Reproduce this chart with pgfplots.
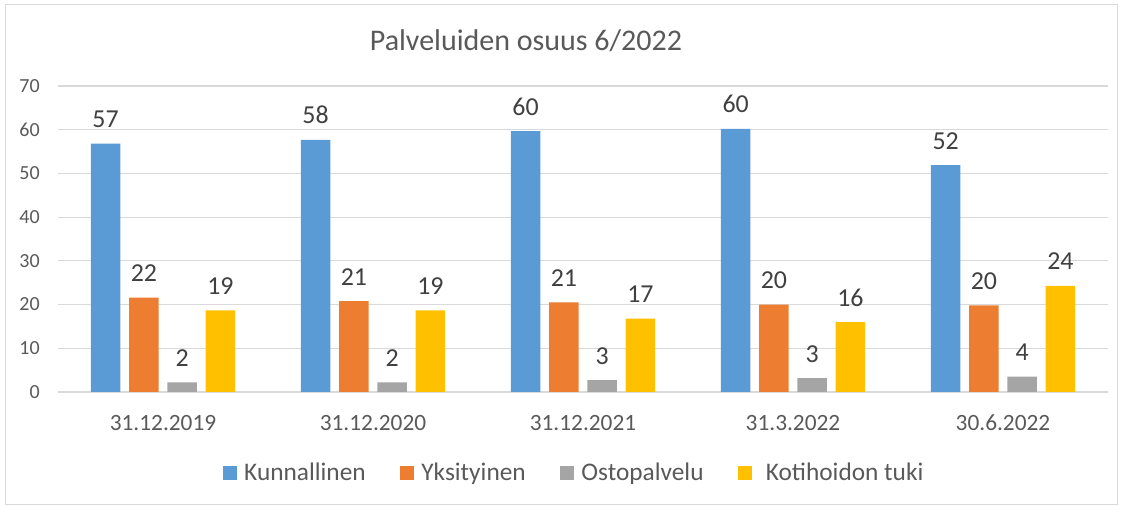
\documentclass[border=0pt]{standalone}
\usepackage{pgfplots}
\pgfplotsset{compat=1.18}
\usepackage{pgfplotstable}
\usepackage{fontspec}
\setmainfont{Carlito}
\definecolor{cblue}{HTML}{5B9BD5}
\definecolor{corange}{HTML}{ED7D31}
\definecolor{cgray}{HTML}{A5A5A5}
\definecolor{cyellow}{HTML}{FFC000}
\definecolor{gridc}{HTML}{D9D9D9}
\definecolor{txt}{HTML}{595959}
\definecolor{lbl}{HTML}{404040}
\pgfplotstableread{
x y lab
0 56.8 57
1 57.7 58
2 59.7 60
3 60.2 60
4 51.9 52
}\kunnallinen
\pgfplotstableread{
x y lab
0 21.6 22
1 20.8 21
2 20.5 21
3 20.0 20
4 19.8 20
}\yksityinen
\pgfplotstableread{
x y lab
0 2.2 2
1 2.2 2
2 2.7 3
3 3.2 3
4 3.5 4
}\ostopalvelu
\pgfplotstableread{
x y lab
0 18.7 19
1 18.7 19
2 16.8 17
3 16.0 16
4 24.3 24
}\kotihoidon
\begin{document}
\begin{tikzpicture}
\path[use as bounding box] (-43.5pt,-85.5pt) rectangle (798.75pt,294pt);
\draw[gridc, line width=1.1pt] (-39.4pt,-84.2pt) rectangle (794.6pt,290.6pt);
\begin{axis}[
  scale only axis,
  width=787.5pt, height=229.5pt,
  xmin=-0.5, xmax=4.5, ymin=0, ymax=70,
  xtick={0,1,2,3,4},
  xticklabels={31.12.2019,31.12.2020,31.12.2021,31.3.2022,30.6.2022},
  ytick={0,10,...,70},
  ymajorgrids,
  grid style={gridc, line width=0.9pt},
  axis line style={draw=none},
  major tick length=0pt,
  clip=false,
  /pgf/number format/assume math mode=true,
  yticklabel style={font=\fontsize{15}{18}\selectfont, text=txt, inner sep=0pt, xshift=-13.5pt},
  xticklabel style={font=\fontsize{17.5}{21}\selectfont, text=txt, anchor=base, inner sep=0pt, yshift=-29.25pt},
  ybar, bar width=22.1pt,
  nodes near coords,
  point meta=explicit symbolic,
  every node near coord/.append style={anchor=base, yshift=12pt, inner sep=0pt, font=\fontsize{19.4}{23}\selectfont, text=lbl},
  legend columns=4,
  legend image code/.code={\fill[#1] (0pt,-5.25pt) rectangle (10.5pt,5.25pt);},
  legend style={draw=none, fill=none, at={(0.1533,-0.2647)}, anchor=west,
    font=\fontsize{19}{23}\selectfont, text=txt, nodes={inner sep=0pt},
    /tikz/every odd column/.append style={column sep=5.25pt},
    /tikz/every even column/.append style={column sep=26pt}},
]
\addplot[fill=cblue, draw=none, bar shift=-43.05pt] table[x=x, y=y, meta=lab] {\kunnallinen};
\addlegendentry{Kunnallinen}
\addplot[fill=corange, draw=none, bar shift=-14.35pt] table[x=x, y=y, meta=lab] {\yksityinen};
\addlegendentry{Yksityinen}
\addplot[fill=cgray, draw=none, bar shift=14.35pt] table[x=x, y=y, meta=lab] {\ostopalvelu};
\addlegendentry{Ostopalvelu}
\addplot[fill=cyellow, draw=none, bar shift=43.05pt] table[x=x, y=y, meta=lab] {\kotihoidon};
\addlegendentry{\hspace{5pt}Kotihoidon tuki}
\end{axis}
\node[anchor=base, text=txt, font=\fontsize{22.5}{27}\selectfont] at (351pt,255.75pt) {Palveluiden osuus 6/2022};
\end{tikzpicture}
\end{document}
